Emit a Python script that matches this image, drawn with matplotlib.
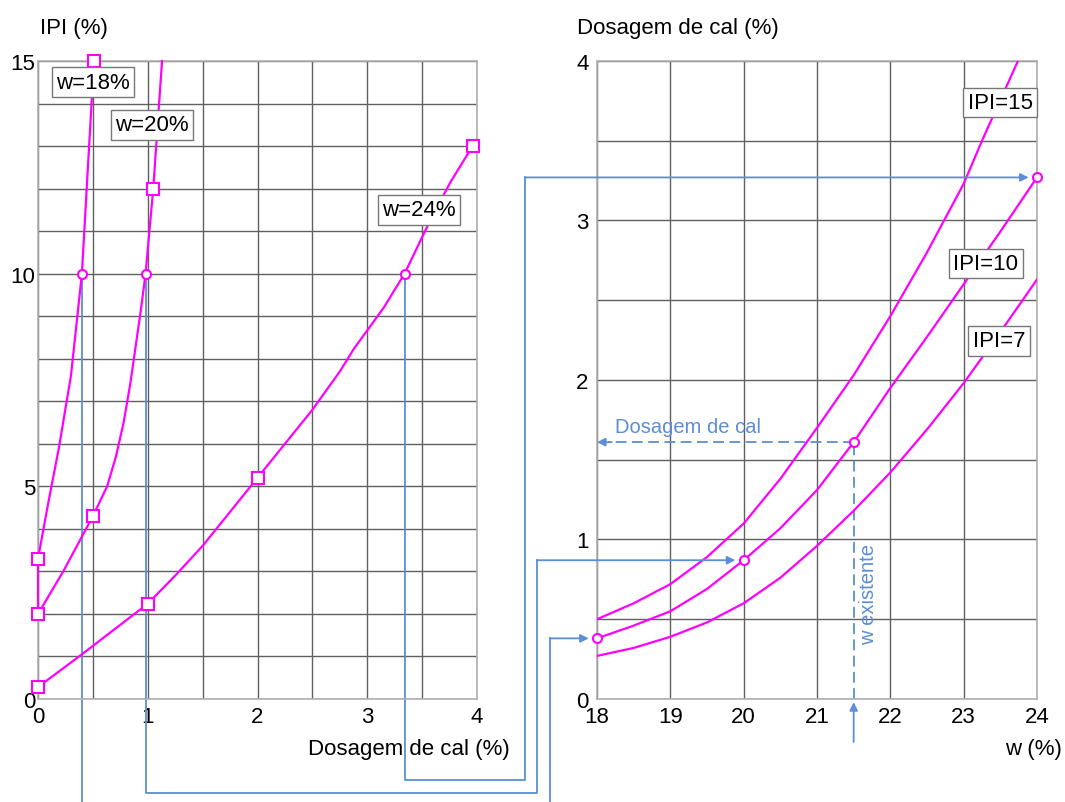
import matplotlib.pyplot as plt
from matplotlib.ticker import MultipleLocator

plt.rcParams['font.family'] = ['Liberation Sans', 'DejaVu Sans']

MAG = "#ff00ff"
BLUE = "#5b8ed6"

# left chart: IPI (%) against lime dosage (%) for each moisture w
w18_dos = [0, 0, 0.05, 0.10, 0.19, 0.30, 0.40, 0.45, 0.51]
w18_ipi = [2.0, 3.3, 4.0, 4.7, 5.9, 7.6, 10.0, 12.3, 15.0]
w18_sq = [1, 8]

w20_dos = [0, 0.23, 0.50, 0.63, 0.71, 0.78, 0.84, 0.89, 0.94, 0.98, 1.05, 1.13]
w20_ipi = [2.0, 3.0, 4.3, 5.0, 5.7, 6.5, 7.4, 8.3, 9.2, 10.0, 12.0, 15.0]
w20_sq = [0, 2, 10]

w24_dos = [0, 0.40, 1.0, 1.25, 1.5, 1.75, 2.0, 2.25, 2.5, 2.75, 2.88, 3.15,
           3.34, 3.59, 3.76, 3.96]
w24_ipi = [0.28, 1.05, 2.24, 2.9, 3.6, 4.4, 5.2, 6.0, 6.8, 7.7, 8.24, 9.2,
           10.0, 11.34, 12.16, 13.0]
w24_sq = [0, 2, 6, 15]

left_labels = ["w=18%", "w=20%", "w=24%"]
left_label_xy = [(0.50, 14.5), (1.04, 13.5), (3.47, 11.5)]

# dosage read at IPI = 10 on each curve
ipi_target = 10
w_read = [18, 20, 24]
dos_at_ipi10 = [0.40, 0.98, 3.34]

# right chart: lime dosage (%) against w (%) for each IPI
ipi15_w = [18, 18.5, 19, 19.5, 20, 20.5, 21, 21.5, 22, 22.5, 23, 23.25, 23.74]
ipi15_dos = [0.50, 0.60, 0.72, 0.89, 1.10, 1.38, 1.70, 2.03, 2.40, 2.80,
             3.23, 3.50, 4.0]

ipi10_w = [18, 18.5, 19, 19.5, 20, 20.5, 21, 21.5, 22, 22.5, 23, 23.5, 24]
ipi10_dos = [0.38, 0.46, 0.55, 0.69, 0.87, 1.07, 1.31, 1.61, 1.95, 2.27,
             2.60, 2.93, 3.27]

ipi7_w = [18, 18.5, 19, 19.5, 20, 20.5, 21, 21.5, 22, 22.5, 23, 23.5, 24]
ipi7_dos = [0.27, 0.32, 0.39, 0.48, 0.60, 0.76, 0.96, 1.18, 1.42, 1.69,
            1.98, 2.30, 2.63]

right_labels = ["IPI=15", "IPI=10", "IPI=7"]
right_label_xy = [(23.5, 3.74), (23.3, 2.73), (23.48, 2.245)]

# transferred points on the IPI=10 curve
dos_right = [0.38, 0.87, 3.27]

# existing moisture and the resulting dosage
w_exist = 21.5
dos_exist = 1.61

# routing of the connector lines (below left chart / between charts)
route_ipi = [-3.0, -2.2, -1.9]
route_w = [17.36, 17.18, 17.02]

fig = plt.figure(figsize=(10.65, 8.03), dpi=100)
axL = fig.add_axes([0.0357, 0.1283, 0.4122, 0.7945])
axR = fig.add_axes([0.5606, 0.1283, 0.4131, 0.7945])

for ax in (axL, axR):
    ax.set_axisbelow(True)
    ax.grid(True, which="both", color="#606060", lw=1.0)
    for s in ax.spines.values():
        s.set_color("#b0b0b0")
        s.set_linewidth(1.2)
    ax.tick_params(which="both", length=0, labelsize=16)

axL.set_xlim(0, 4)
axL.set_ylim(0, 15)
axL.xaxis.set_major_locator(MultipleLocator(1))
axL.xaxis.set_minor_locator(MultipleLocator(0.5))
axL.yaxis.set_major_locator(MultipleLocator(5))
axL.yaxis.set_minor_locator(MultipleLocator(1))
axL.tick_params(axis="y", pad=2)
axL.tick_params(axis="x", pad=5)

axR.set_xlim(18, 24)
axR.set_ylim(0, 4)
axR.xaxis.set_major_locator(MultipleLocator(1))
axR.yaxis.set_major_locator(MultipleLocator(1))
axR.yaxis.set_minor_locator(MultipleLocator(0.5))
axR.tick_params(axis="y", pad=6)
axR.tick_params(axis="x", pad=5)

sq = dict(marker="s", ms=8, mfc="white", mec=MAG, mew=1.5)
for xs, ys, idx in [(w18_dos, w18_ipi, w18_sq), (w20_dos, w20_ipi, w20_sq),
                    (w24_dos, w24_ipi, w24_sq)]:
    axL.plot(xs, ys, color=MAG, lw=1.6, zorder=3, clip_on=False)
    axL.plot([xs[i] for i in idx], [ys[i] for i in idx], ls="none", zorder=5,
             clip_on=False, **sq)
axL.plot(dos_at_ipi10, [ipi_target] * 3, ls="none", marker="o", ms=6.5,
         mfc="white", mec=MAG, mew=1.5, zorder=5)

box = dict(boxstyle="square,pad=0.2", fc="white", ec="#777777", lw=1)
for txt, (x, y) in zip(left_labels, left_label_xy):
    axL.text(x, y, txt, ha="center", va="center", fontsize=16, bbox=box, zorder=6)

for xs, ys in [(ipi15_w, ipi15_dos), (ipi10_w, ipi10_dos), (ipi7_w, ipi7_dos)]:
    axR.plot(xs, ys, color=MAG, lw=1.6, zorder=3)
for txt, (x, y) in zip(right_labels, right_label_xy):
    axR.text(x, y, txt, ha="center", va="center", fontsize=16, bbox=box, zorder=6)
axR.plot(w_read + [w_exist], dos_right + [dos_exist], ls="none", marker="o",
         ms=6.5, mfc="white", mec=MAG, mew=1.5, zorder=5, clip_on=False)

# connector lines from the left chart to the right chart
toL = axL.transData.inverted()
for d0, ry, rx, w, d1 in zip(dos_at_ipi10, route_ipi, route_w, w_read, dos_right):
    xr, yr = toL.transform(axR.transData.transform((rx, d1)))
    axL.plot([d0, d0, xr, xr], [ipi_target, ry, ry, yr], color=BLUE, lw=1.3,
             zorder=2, clip_on=False)
    axR.annotate("", xy=(w, d1), xytext=(rx, d1), annotation_clip=False,
                 arrowprops=dict(arrowstyle="-|>", color=BLUE, lw=1.3,
                                 shrinkA=0, shrinkB=6, mutation_scale=12),
                 zorder=4)

# existing w -> dosage
axR.plot([w_exist, w_exist], [0, dos_exist], color=BLUE, lw=1.3,
         dashes=(6, 3), zorder=2)
axR.annotate("", xy=(w_exist, -0.02), xytext=(w_exist, -0.27),
             annotation_clip=False,
             arrowprops=dict(arrowstyle="-|>", color=BLUE, lw=1.3,
                             shrinkA=0, shrinkB=0, mutation_scale=12))
axR.plot([w_exist, 18.15], [dos_exist, dos_exist], color=BLUE, lw=1.3,
         dashes=(6, 3), zorder=2)
axR.annotate("", xy=(18.0, dos_exist), xytext=(18.2, dos_exist),
             annotation_clip=False,
             arrowprops=dict(arrowstyle="-|>", color=BLUE, lw=1.3,
                             shrinkA=0, shrinkB=0, mutation_scale=12))
axR.text(18.25, dos_exist + 0.04, "Dosagem de cal", color=BLUE, fontsize=14.5,
         ha="left", va="bottom")
axR.text(w_exist + 0.2, 0.66, "w existente", color=BLUE, fontsize=14.5,
         rotation=90, ha="center", va="center")

# axis titles
axL.text(0.004, 1.053, "IPI (%)", transform=axL.transAxes, fontsize=16,
         ha="left", va="center")
axL.text(0.845, -0.078, "Dosagem de cal (%)", transform=axL.transAxes,
         fontsize=16, ha="center", va="center")
axR.text(-0.045, 1.053, "Dosagem de cal (%)", transform=axR.transAxes,
         fontsize=16, ha="left", va="center")
axR.text(1.057, -0.078, "w (%)", transform=axR.transAxes, fontsize=16,
         ha="right", va="center")

fig.savefig("out.png", dpi=100)
